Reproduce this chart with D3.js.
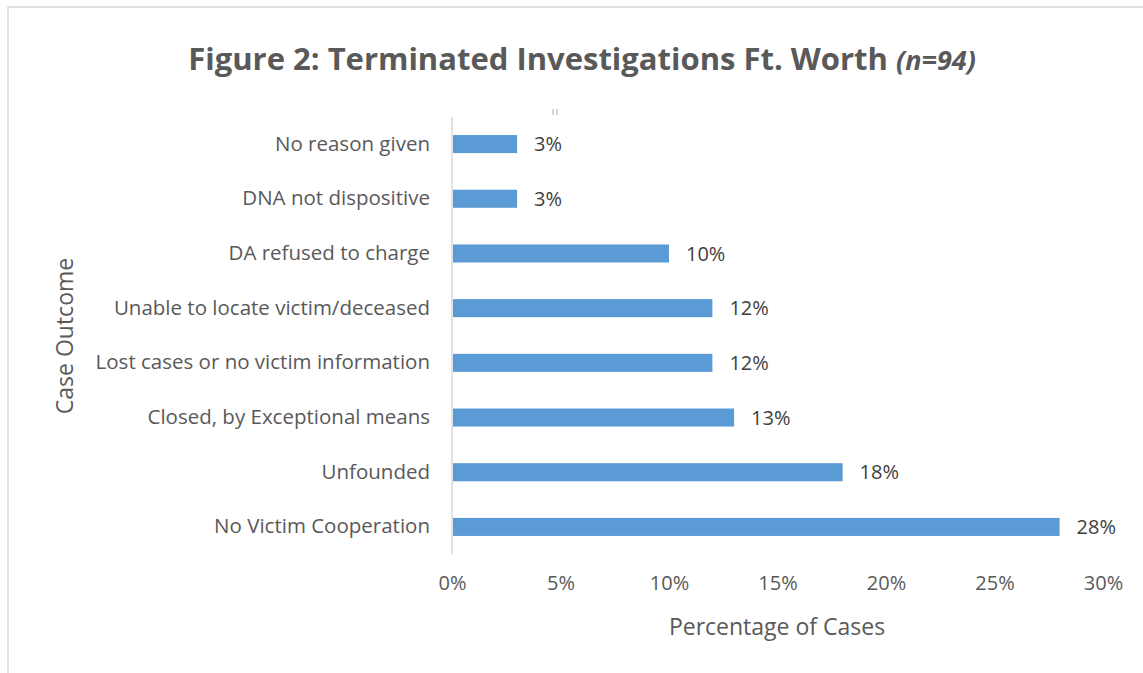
<!DOCTYPE html>
<html>
<head>
<meta charset="utf-8">
<script src="https://cdn.jsdelivr.net/npm/d3@7"></script>
<style>
  body { margin: 0; background: #fff; }
  svg { font-family: "Open Sans", "Noto Sans", sans-serif; }
</style>
</head>
<body>
<div id="chart"></div>
<script>
// Data (top to bottom)
const categories = [
  "No reason given",
  "DNA not dispositive",
  "DA refused to charge",
  "Unable to locate victim/deceased",
  "Lost cases or no victim information",
  "Closed, by Exceptional means",
  "Unfounded",
  "No Victim Cooperation"
];
const percents = [3, 3, 10, 12, 12, 13, 18, 28];
const xTicks = [0, 5, 10, 15, 20, 25, 30];

const width = 1143, height = 673;
const margin = { top: 117, right: 40, bottom: 119, left: 452 };

const svg = d3.select("#chart").append("svg")
  .attr("width", width)
  .attr("height", height);

// Outer chart border (only top and left edges are visible in the crop)
svg.append("rect")
  .attr("x", 8).attr("y", 7)
  .attr("width", width + 10).attr("height", height + 10)
  .attr("fill", "none")
  .attr("stroke", "#d9d9d9")
  .attr("stroke-width", 1.5);

const x = d3.scaleLinear()
  .domain([0, 30])
  .range([margin.left, 1103]);

const y = d3.scaleBand()
  .domain(categories)
  .range([margin.top, height - margin.bottom])
  .paddingInner(0.67)
  .paddingOuter(0.33);

// Title
const title = svg.append("text")
  .attr("x", 582)
  .attr("y", 70)
  .attr("text-anchor", "middle")
  .attr("fill", "#595959")
  .style("font-size", "31px")
  .style("font-weight", "bold");
title.append("tspan").text("Figure 2: Terminated Investigations Ft. Worth ");
title.append("tspan").style("font-style", "italic").style("font-size", "27px").text("(n=94)");

// Vertical axis line
svg.append("line")
  .attr("x1", x(0)).attr("x2", x(0))
  .attr("y1", margin.top).attr("y2", height - margin.bottom)
  .attr("stroke", "#d9d9d9")
  .attr("stroke-width", 1.5);

// small stray mark above plot area
svg.selectAll(".stray")
  .data([0, 4])
  .enter().append("rect")
  .attr("x", d => 552 + d)
  .attr("y", 109)
  .attr("width", 2)
  .attr("height", 6)
  .attr("fill", "#d9d9d9");

// Bars
svg.selectAll(".bar")
  .data(percents)
  .enter().append("rect")
  .attr("class", "bar")
  .attr("x", x(0) + 1)
  .attr("y", (d, i) => y(categories[i]))
  .attr("width", d => x(d) - x(0) - 1)
  .attr("height", y.bandwidth())
  .attr("fill", "#5b9bd5");

// Value labels
svg.selectAll(".val")
  .data(percents)
  .enter().append("text")
  .attr("x", d => x(d) + 17)
  .attr("y", (d, i) => y(categories[i]) + y.bandwidth() / 2)
  .attr("dy", "0.36em")
  .attr("fill", "#404040")
  .style("font-size", "20px")
  .text(d => d + "%");

// Category labels
const yAxis = d3.axisLeft(y).tickSize(0).tickPadding(22);
const gy = svg.append("g")
  .attr("transform", `translate(${x(0)},0)`)
  .call(yAxis);
gy.select(".domain").remove();
gy.selectAll("text")
  .attr("fill", "#595959")
  .style("font-size", "20.5px")
  .style("font-family", "'Open Sans', sans-serif");

// X axis tick labels
const xAxis = d3.axisBottom(x)
  .tickValues(xTicks)
  .tickFormat(d => d + "%")
  .tickSize(0)
  .tickPadding(22);
const gx = svg.append("g")
  .attr("transform", `translate(0,${height - margin.bottom})`)
  .call(xAxis);
gx.select(".domain").remove();
gx.selectAll("text")
  .attr("fill", "#595959")
  .style("font-size", "20px")
  .style("font-family", "'Open Sans', sans-serif");

// Axis titles
svg.append("text")
  .attr("x", 777)
  .attr("y", 635)
  .attr("text-anchor", "middle")
  .attr("fill", "#595959")
  .style("font-size", "23px")
  .text("Percentage of Cases");

svg.append("text")
  .attr("transform", "translate(73,336) rotate(-90)")
  .attr("text-anchor", "middle")
  .attr("fill", "#595959")
  .style("font-size", "23px")
  .text("Case Outcome");
</script>
</body>
</html>
